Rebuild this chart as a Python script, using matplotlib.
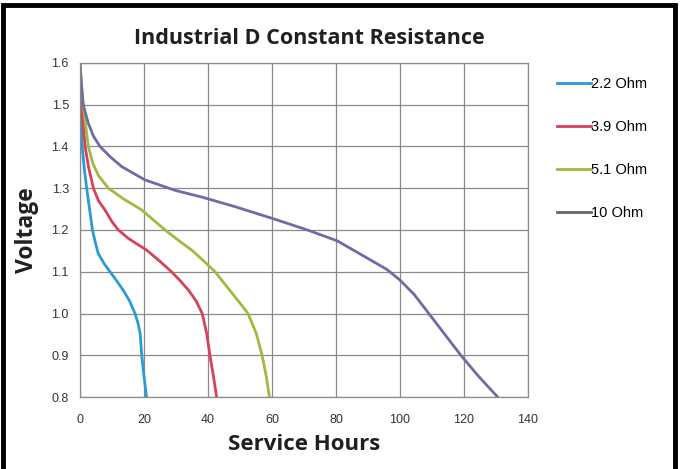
import matplotlib.pyplot as plt
from matplotlib.patches import Rectangle

plt.rcParams['font.family'] = ['Liberation Sans', 'DejaVu Sans']

# hours / voltage
h_22 = [0, 0.3, 0.7, 1.3, 2.1, 3.0, 3.9, 4.8, 5.7, 7.5, 9.4, 11.5, 13.5, 15.5, 17.2, 18.2, 18.8, 19.3, 20.0, 20.8]
v_22 = [1.6, 1.5, 1.4, 1.35, 1.3, 1.25, 1.2, 1.17, 1.144, 1.12, 1.1, 1.078, 1.056, 1.03, 1.0, 0.975, 0.952, 0.9, 0.85, 0.8]

h_39 = [0, 0.5, 1.6, 2.7, 4.2, 5.8, 7.8, 10, 12, 15.1, 17.5, 20.8, 25, 28.6, 31.5, 33.9, 36.3, 38.2, 39.6, 40.6, 41.7, 42.7]
v_39 = [1.6, 1.5, 1.4, 1.35, 1.3, 1.27, 1.248, 1.22, 1.2, 1.18, 1.168, 1.152, 1.125, 1.1, 1.077, 1.056, 1.03, 1.0, 0.952, 0.9, 0.85, 0.8]

h_51 = [0, 1.0, 2.6, 4.0, 5.8, 8.9, 13.5, 19.3, 26.6, 31.5, 34.9, 38.5, 42.2, 45.3, 47.9, 50.5, 52.5, 55.1, 56.9, 58.2, 59.2]
v_51 = [1.6, 1.5, 1.4, 1.36, 1.33, 1.3, 1.275, 1.248, 1.2, 1.171, 1.152, 1.127, 1.1, 1.07, 1.045, 1.02, 1.0, 0.952, 0.9, 0.85, 0.8]

h_10 = [0, 0.4, 1.0, 2.6, 4.2, 6.25, 9.5, 13, 20.3, 29.7, 38, 48.4, 60, 71.1, 80.4, 89.7, 96, 100, 104.5, 109, 114, 119, 124.5, 130.5]
v_10 = [1.6, 1.55, 1.5, 1.456, 1.425, 1.4, 1.375, 1.352, 1.32, 1.295, 1.279, 1.256, 1.228, 1.2, 1.174, 1.133, 1.105, 1.08, 1.045, 1.0, 0.95, 0.9, 0.85, 0.8]

labels = ['2.2 Ohm', '3.9 Ohm', '5.1 Ohm', '10 Ohm']
colors = ['#2a9bd3', '#d9415a', '#9dbb3f', '#6e6ba5']
legend_colors = ['#2a9bd3', '#d9415a', '#9dbb3f', '#666666']
x_ticks = [0, 20, 40, 60, 80, 100, 120, 140]
y_ticks = [0.8, 0.9, 1.0, 1.1, 1.2, 1.3, 1.4, 1.5, 1.6]

fig = plt.figure(figsize=(6.8, 4.69), dpi=100)
ax = fig.add_axes([0.1176, 0.1535, 0.6589, 0.7122])

series = [(h_22, v_22), (h_39, v_39), (h_51, v_51), (h_10, v_10)]
for (h, v), lab, c in zip(series, labels, colors):
    ax.plot(h, v, color=c, lw=2, label=lab, solid_joinstyle='round')

ax.set_xlim(0, 140)
ax.set_ylim(0.8, 1.6)
ax.set_xticks(x_ticks)
ax.set_yticks(y_ticks)
ax.set_xticklabels([str(t) for t in x_ticks])
ax.set_yticklabels(['%.1f' % t for t in y_ticks])
ax.tick_params(axis='x', length=0, labelsize=9, colors='#333333', pad=12)
ax.tick_params(axis='y', length=0, labelsize=9, colors='#333333', pad=8)
ax.grid(True, color='#8a8a8a', lw=0.9)
for s in ax.spines.values():
    s.set_color('#8a8a8a')
    s.set_linewidth(0.9)

ax.set_xlabel('Service Hours', fontsize=16, fontweight='bold', color='#231f20',
              family=['Open Sans', 'DejaVu Sans'], labelpad=6)
ax.set_ylabel('Voltage', fontsize=16.5, fontweight='bold', color='#231f20',
              family=['Open Sans', 'DejaVu Sans'], labelpad=9)
fig.text(0.455, 0.918, 'Industrial D Constant Resistance', ha='center', va='center',
         fontsize=15.5, fontweight='bold', color='#231f20', family=['Open Sans', 'DejaVu Sans'])

leg_handles = [plt.Line2D([], [], color=c, lw=2) for c in legend_colors]
fig.legend(leg_handles, labels, loc='upper left', bbox_to_anchor=(0.8, 0.864), frameon=False,
           fontsize=10.5, labelspacing=2.0, handlelength=2.3, handletextpad=0.05)

fig.patches.append(Rectangle((0.005, -0.02), 0.988, 1.01, transform=fig.transFigure,
                             fill=False, edgecolor='black', lw=3.5))

fig.savefig('out.png', dpi=100)
